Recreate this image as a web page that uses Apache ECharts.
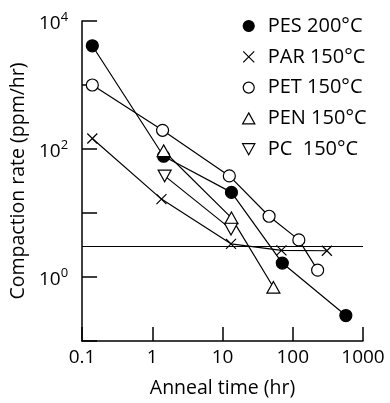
<!DOCTYPE html>
<html>
<head>
<meta charset="utf-8">
<script src="https://cdn.jsdelivr.net/npm/echarts@6/dist/echarts.min.js"></script>
<style>
  html, body { margin: 0; padding: 0; background: #fff; }
  #chart { width: 390px; height: 403px; }
</style>
</head>
<body>
<div id="chart"></div>
<script>
// Compaction rate vs. anneal time for several polymer films (log-log)
const seriesNames = ['PES 200°C', 'PAR 150°C', 'PET 150°C', 'PEN 150°C', 'PC  150°C'];

const pesTime = [0.14, 1.45, 13.4, 71, 570];
const pesRate = [4100, 77, 21, 1.65, 0.25];

const parTime = [0.14, 1.35, 13.2, 69, 306];
const parRate = [146, 16.5, 3.3, 2.6, 2.57];

const petTime = [0.14, 1.4, 12.5, 46, 122, 226];
const petRate = [1000, 196, 38, 8.9, 3.8, 1.28];

const penTime = [1.45, 13.4, 53];
const penRate = [94, 8.4, 0.69];

const pcTime = [1.5, 13.2];
const pcRate = [38, 5.6];

const thresholdRate = 3;

const xTickLabels = ['0.1', '1', '10', '100', '1000'];
const yLabelExponents = [0, 2, 4];

const FONT = 'Open Sans';
const CROSS = 'path://M0,0L10,10M10,0L0,10';
const UP_TRI = 'path://M5,0L10,9L0,9Z';
const DOWN_TRI = 'path://M0,0L10,0L5,9Z';

function pairs(xs, ys) {
  return xs.map((x, i) => [x, ys[i]]);
}

function makeSeries(name, xs, ys, symbol, size, fill) {
  return {
    type: 'line',
    name: name,
    data: pairs(xs, ys),
    symbol: symbol,
    symbolSize: size,
    symbolKeepAspect: true,
    showSymbol: true,
    silent: true,
    color: '#000',
    lineStyle: { color: '#000', width: 1.2 },
    itemStyle: { color: fill, borderColor: '#000', borderWidth: 1.2 },
    emphasis: { disabled: true }
  };
}

const seriesList = [
  makeSeries(seriesNames[0], pesTime, pesRate, 'circle', 12, '#000'),
  makeSeries(seriesNames[1], parTime, parRate, CROSS, 10, '#000'),
  makeSeries(seriesNames[2], petTime, petRate, 'circle', 12, '#fff'),
  makeSeries(seriesNames[3], penTime, penRate, UP_TRI, 13, '#fff'),
  makeSeries(seriesNames[4], pcTime, pcRate, DOWN_TRI, 13, '#fff')
];

// horizontal reference level
seriesList[0].markLine = {
  silent: true,
  symbol: 'none',
  label: { show: false },
  lineStyle: { color: '#000', width: 1.2, type: 'solid' },
  data: [{ yAxis: thresholdRate }]
};

const legendIcons = ['circle', CROSS, 'circle', UP_TRI, DOWN_TRI];
const legendFills = ['#000', '#000', '#fff', '#fff', '#fff'];

const chart = echarts.init(document.getElementById('chart'), null, { renderer: 'canvas' });

chart.setOption({
  animation: false,
  backgroundColor: '#fff',
  textStyle: { fontFamily: FONT, color: '#000' },
  grid: { left: 80, right: 27, top: 21, bottom: 54, containLabel: false },
  legend: {
    orient: 'vertical',
    left: 242,
    top: 16,
    padding: 0,
    itemWidth: 28,
    itemHeight: 11,
    itemGap: 10.8,
    symbolKeepAspect: true,
    selectedMode: false,
    textStyle: { fontFamily: FONT, fontSize: 20, color: '#000', lineHeight: 20 },
    data: seriesNames.map((n, i) => ({
      name: n,
      icon: legendIcons[i],
      itemStyle: { color: legendFills[i], borderColor: '#000', borderWidth: 1.2 }
    }))
  },
  xAxis: {
    type: 'log',
    logBase: 10,
    min: 0.1,
    max: 1000,
    name: 'Anneal time (hr)',
    nameLocation: 'middle',
    nameGap: 37,
    nameTextStyle: { fontFamily: FONT, fontSize: 19.5, color: '#000' },
    axisLine: { show: true, lineStyle: { color: '#000', width: 1.5 } },
    axisTick: { show: true, inside: true, length: 14, lineStyle: { color: '#000', width: 1.5 } },
    minorTick: { show: false },
    splitLine: { show: false },
    axisLabel: {
      fontFamily: FONT,
      fontSize: 19,
      color: '#000',
      margin: 7,
      formatter: function (v) {
        const e = Math.round(Math.log10(v));
        return xTickLabels[e + 1] || '';
      }
    }
  },
  yAxis: {
    type: 'log',
    logBase: 10,
    min: 0.1,
    max: 10000,
    name: 'Compaction rate (ppm/hr)',
    nameLocation: 'middle',
    nameGap: 47,
    nameTextStyle: { fontFamily: FONT, fontSize: 19.5, color: '#000' },
    axisLine: { show: true, lineStyle: { color: '#000', width: 1.5 } },
    axisTick: { show: true, inside: true, length: 15, lineStyle: { color: '#000', width: 1.5 } },
    minorTick: { show: false },
    splitLine: { show: false },
    axisLabel: {
      margin: 14,
      showMinLabel: true,
      formatter: function (v) {
        const e = Math.round(Math.log10(v));
        if (yLabelExponents.indexOf(e) < 0) return '';
        return '{b|10}{s|' + e + '}';
      },
      rich: {
        b: { fontFamily: FONT, fontSize: 19, color: '#000', padding: [6, 0, 0, 0] },
        s: { fontFamily: FONT, fontSize: 13, color: '#000', padding: [0, 0, 8, 0] }
      }
    }
  },
  series: seriesList
});
</script>
</body>
</html>
